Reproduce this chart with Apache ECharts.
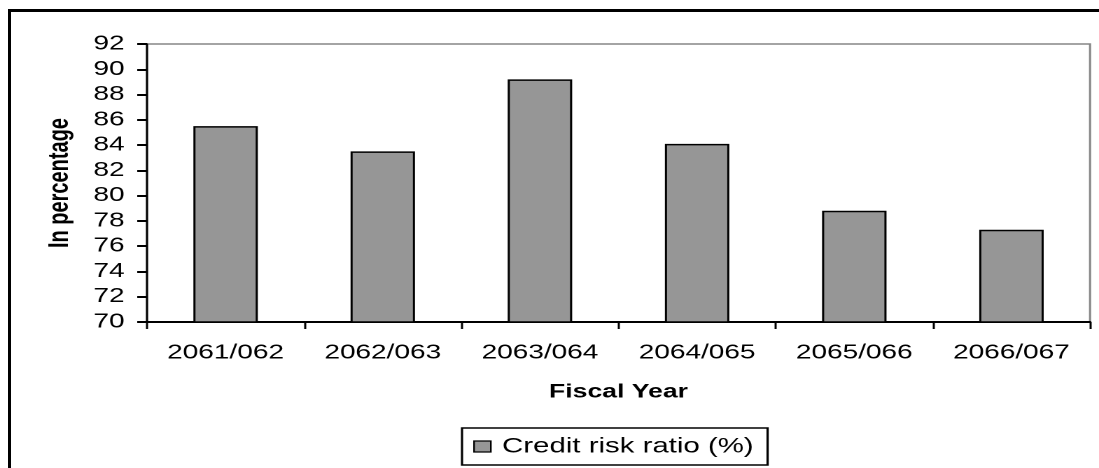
<!DOCTYPE html>
<html>
<head>
<meta charset="utf-8">
<script src="https://cdn.jsdelivr.net/npm/echarts@6/dist/echarts.min.js"></script>
<style>
  html, body { margin: 0; padding: 0; background: #fff; overflow: hidden; }
  #frame {
    position: absolute; left: 8px; top: 9px;
    width: 2000px; height: 1000px;
    border-left: 3px solid #000; border-top: 3px solid #000;
  }
  #chart {
    position: absolute; left: 0; top: 0;
    width: 785px; height: 468px;
    transform: scaleX(1.4); transform-origin: 0 0;
  }
</style>
</head>
<body>
<div id="frame"></div>
<div id="chart"></div>
<script>
// Fiscal years and the credit risk ratio for each
const fiscalYears = ['2061/062', '2062/063', '2063/064', '2064/065', '2065/066', '2066/067'];
const creditRiskRatio = [85.5, 83.5, 89.2, 84.1, 78.8, 77.3];
const seriesName = 'Credit risk ratio (%)';
const yMin = 70, yMax = 92, yStep = 2;

const labelFont = { fontFamily: 'Liberation Sans, Arial, sans-serif', color: '#000' };

const chart = echarts.init(document.getElementById('chart'), null, { devicePixelRatio: 2 });
chart.setOption({
  animation: false,
  backgroundColor: 'transparent',
  grid: {
    left: 105, right: 6.4, top: 44, bottom: 146,
    show: true, borderColor: '#858585', borderWidth: 1.5, backgroundColor: 'transparent'
  },
  legend: {
    data: [seriesName],
    left: 330, top: 428,
    padding: [8, 10, 8, 8],
    borderColor: '#000', borderWidth: 1.6,
    itemWidth: 12, itemHeight: 11,
    icon: 'rect',
    itemStyle: { color: '#969696', borderColor: '#000', borderWidth: 1.2 },
    textStyle: Object.assign({ fontSize: 21, padding: [0, 0, 0, 3] }, labelFont)
  },
  xAxis: {
    type: 'category',
    data: fiscalYears,
    boundaryGap: true,
    axisLine: { lineStyle: { color: '#000', width: 2 } },
    axisTick: { show: true, length: 7, alignWithLabel: false, lineStyle: { color: '#000', width: 1.5 } },
    axisLabel: Object.assign({ fontSize: 20, margin: 21 }, labelFont),
    name: 'Fiscal Year',
    nameLocation: 'middle',
    nameGap: 61,
    nameTextStyle: Object.assign({ fontSize: 19, fontWeight: 'bold' }, labelFont)
  },
  yAxis: {
    type: 'value',
    min: yMin, max: yMax, interval: yStep,
    splitLine: { show: false },
    axisLine: { show: true, lineStyle: { color: '#000', width: 1.5 } },
    axisTick: { show: true, length: 7, lineStyle: { color: '#000', width: 2 } },
    axisLabel: Object.assign({ fontSize: 20, margin: 16 }, labelFont),
    name: 'In percentage',
    nameLocation: 'middle',
    nameGap: 52,
    nameTextStyle: Object.assign({ fontSize: 20, fontWeight: 'bold' }, labelFont)
  },
  series: [{
    name: seriesName,
    type: 'bar',
    data: creditRiskRatio,
    barWidth: '41%',
    itemStyle: { color: '#969696', borderColor: '#000', borderWidth: 1.5 }
  }]
});
</script>
</body>
</html>
